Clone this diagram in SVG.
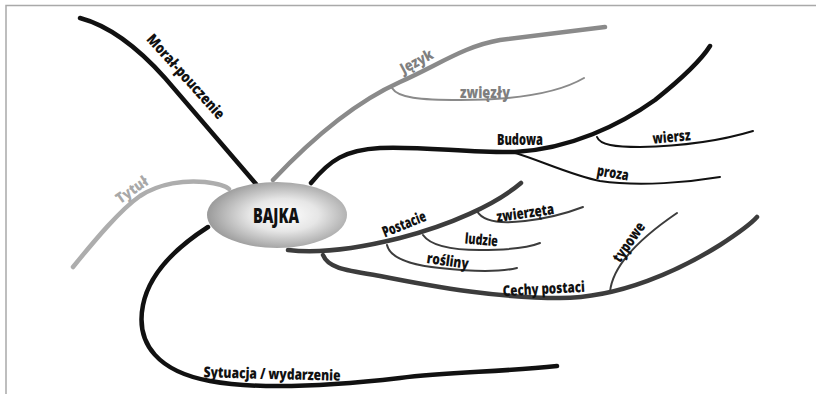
<svg xmlns="http://www.w3.org/2000/svg" width="816" height="394" viewBox="0 0 816 394">
<defs>
<radialGradient id="g" cx="0.55" cy="0.5" r="0.55">
<stop offset="0" stop-color="#ffffff"/>
<stop offset="0.45" stop-color="#e6e6e6"/>
<stop offset="1" stop-color="#9a9a9a"/>
</radialGradient>
</defs>
<style>
.b{fill:none;stroke-linecap:round;stroke-linejoin:round}
.m{stroke-width:4.5}
.s{stroke-width:2}
.k{stroke:#111}
.d{stroke:#3c3c3c}
.g{stroke:#8a8a8a}
.l{stroke:#adadad}
text{font-family:"Open Sans","DejaVu Sans",sans-serif;font-weight:800;font-size:15px;text-anchor:middle}
.tk{fill:#111}
.tg{fill:#7f7f7f}
.tl{fill:#a8a8a8}
</style>
<rect width="816" height="394" fill="#fff"/>
<path d="M6,394 L6,5.5 L816,5.5" fill="none" stroke="#a9a9a9" stroke-width="1.5"/>
<g id="connectors">
<path class="b m k" d="M80,18 C110,26 140,50 165,78 L256,184"/>
<path class="b m g" d="M273,180 C320,130 360,100 400,82 C440,64 465,46 500,40 C540,35 580,30 605,27"/>
<path class="b s g" d="M392,88 C398,98 420,100 460,100 C520,100 560,92 584,78"/>
<path class="b m k" d="M311,183 C330,160 345,150 380,148 C420,146 470,153 515,152 C570,149 620,125 655,100 C680,80 700,62 710,46"/>
<path class="b s k" d="M597,137 C600,145 615,147 640,147 C690,146 730,138 753,131"/>
<path class="b s k" d="M512,152 C540,160 570,175 600,181 C640,187 690,182 720,177"/>
<path class="b m d" d="M288,250 C320,254 360,248 400,238 C450,225 495,205 521,183"/>
<path class="b s d" d="M477,211 C483,222 500,224 525,221 C550,218 570,212 583,207"/>
<path class="b s d" d="M423,235 C430,245 450,250 480,250 C510,250 530,247 540,243"/>
<path class="b s d" d="M387,245 C390,258 410,265 440,268 C475,272 500,272 517,268"/>
<path class="b m d" d="M323,255 C328,268 345,270 380,276 C440,288 500,298 560,298 C620,298 680,270 720,245 C740,232 750,225 757,217"/>
<path class="b s d" d="M610,292 C612,270 630,245 677,213"/>
<path class="b m l" d="M73,267 C95,240 120,210 140,196 C160,183 185,180 205,182 C220,184 226,186 229,189"/>
<path class="b m k" d="M208,227 C180,245 150,270 143,305 C135,345 160,372 210,381 C260,390 330,386 400,378 C450,372 500,372 557,366"/>
</g>
<g id="bajka">
<ellipse cx="277" cy="215" rx="70" ry="33" fill="url(#g)"/>
<text x="276" y="223" style="font-size:21px;font-weight:800" class="tk" textLength="46" lengthAdjust="spacingAndGlyphs">BAJKA</text>
</g>
<g id="moral"><text class="tk" transform="translate(182,80) rotate(48)" textLength="108" lengthAdjust="spacingAndGlyphs">Morał-pouczenie</text></g>
<g id="jezyk"><text class="tg" transform="translate(419,66) rotate(-28)" textLength="35" lengthAdjust="spacingAndGlyphs">Język</text></g>
<g id="zwiezly"><text class="tg" x="485" y="98" textLength="50" lengthAdjust="spacingAndGlyphs">zwięzły</text></g>
<g id="budowa"><text class="tk" x="520" y="145" textLength="46" lengthAdjust="spacingAndGlyphs">Budowa</text></g>
<g id="wiersz"><text class="tk" transform="translate(672,142) rotate(-5)" textLength="38" lengthAdjust="spacingAndGlyphs">wiersz</text></g>
<g id="proza"><text class="tk" transform="translate(612,178) rotate(10)" textLength="32" lengthAdjust="spacingAndGlyphs">proza</text></g>
<g id="postacie"><text class="tk" transform="translate(406,229) rotate(-22)" textLength="46" lengthAdjust="spacingAndGlyphs">Postacie</text></g>
<g id="zwierzeta"><text class="tk" transform="translate(526,218) rotate(-8)" textLength="58" lengthAdjust="spacingAndGlyphs">zwierzęta</text></g>
<g id="ludzie"><text class="tk" transform="translate(481,245) rotate(5)" textLength="33" lengthAdjust="spacingAndGlyphs">ludzie</text></g>
<g id="rosliny"><text class="tk" transform="translate(447,266) rotate(8)" textLength="42" lengthAdjust="spacingAndGlyphs">rośliny</text></g>
<g id="cechy"><text class="tk" transform="translate(544,294) rotate(-3)" textLength="82" lengthAdjust="spacingAndGlyphs">Cechy postaci</text></g>
<g id="typowe"><text class="tk" transform="translate(633,245) rotate(-55)" textLength="45" lengthAdjust="spacingAndGlyphs">typowe</text></g>
<g id="tytul"><text class="tl" transform="translate(135,194) rotate(-35)" textLength="36" lengthAdjust="spacingAndGlyphs">Tytuł</text></g>
<g id="sytuacja"><text class="tk" transform="translate(272,379) rotate(1.5)" textLength="137" lengthAdjust="spacingAndGlyphs">Sytuacja / wydarzenie</text></g>
</svg>
